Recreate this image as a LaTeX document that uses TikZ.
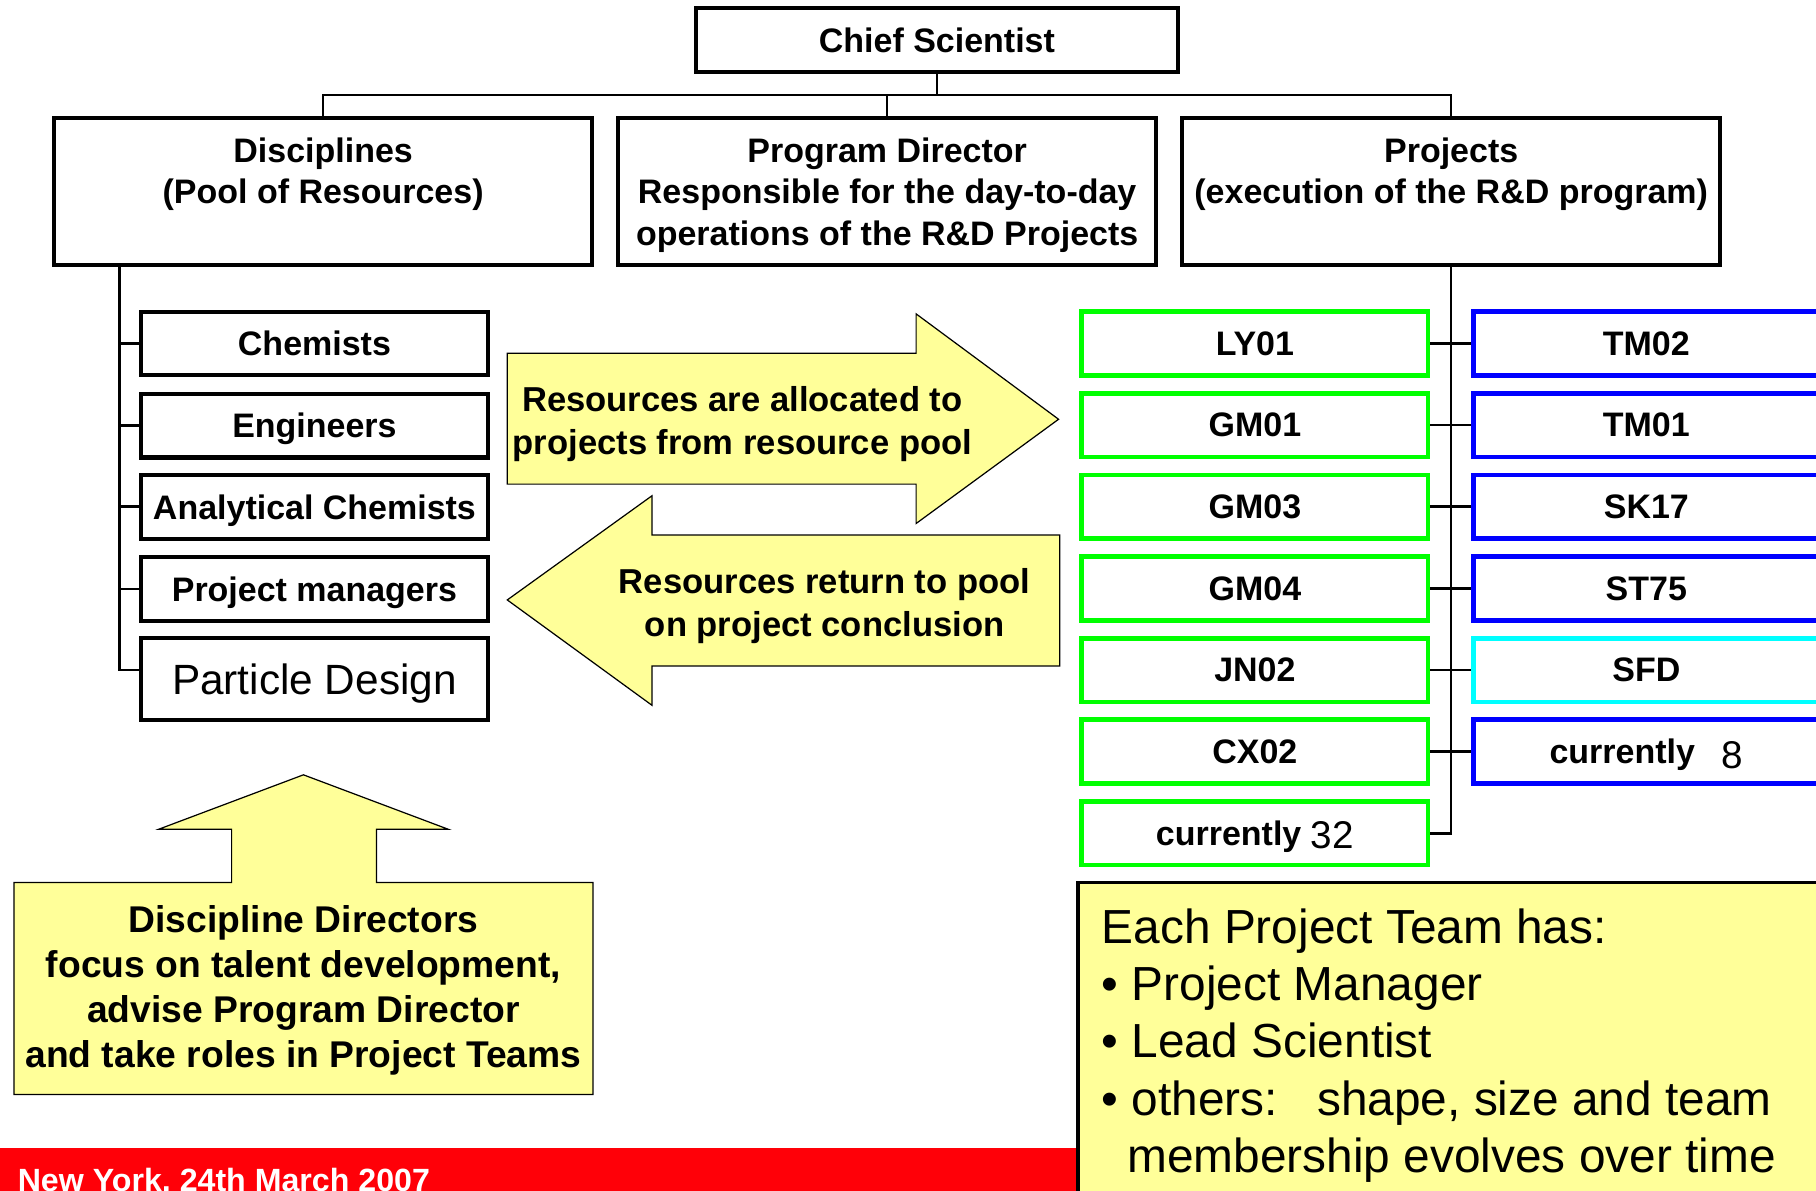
\documentclass[tikz,border=0pt]{standalone}
\usepackage{fontspec}
\setmainfont{Liberation Sans}
\definecolor{notefill}{RGB}{255,255,153}
\definecolor{projgreen}{RGB}{0,255,0}
\definecolor{projblue}{RGB}{0,0,255}
\definecolor{projcyan}{RGB}{0,255,255}
\definecolor{barred}{RGB}{255,0,8}
\tikzset{
  orgbox/.style={draw, line width=2pt, fill=white, inner sep=0pt,
    minimum width=5.98cm, minimum height=1.1cm, text depth=0pt,
    font=\bfseries\fontsize{16.7}{20.5}\selectfont},
  headbox/.style={orgbox, align=center, minimum width=9.3cm,
    minimum height=2.54cm},
  projbox/.style={orgbox, line width=2.3pt},
  link/.style={line width=1.2pt},
  callout/.style={draw, line width=0.6pt, fill=notefill},
  calltext/.style={align=center, inner sep=0pt,
    font=\bfseries\fontsize{17}{21}\selectfont}
}
\begin{document}
\begin{tikzpicture}[x=0.02cm, y=-0.02cm]
  \useasboundingbox (0,0) rectangle (1568,1028);
  % tree head
  \node[orgbox, minimum width=8.32cm] (chief) at (809,34.5) {Chief Scientist};
  \node[headbox] (disc) at (279,165.5)
    {Disciplines\\(Pool of Resources)\\ \strut};
  \node[headbox] (prog) at (766,165.5)
    {Program Director\\Responsible for the day-to-day\\operations of the R\&D Projects};
  \node[headbox] (proj) at (1253,165.5)
    {Projects\\(execution of the R\&D program)\\ \strut};
  \coordinate (bus) at (809,82);
  \draw[link] (chief) -- (bus);
  \draw[link] (disc.north) |- (bus) -| (proj.north);
  \draw[link] (prog.north) -- (prog.north |- bus);
  % disciplines
  \foreach \n/\y/\t in {1/296.5/Chemists, 2/367.5/Engineers,
      3/437.5/Analytical Chemists, 4/508.5/Project managers} {
    \node[orgbox] (d\n) at (271.5,\y) {\t};
  }
  \node[orgbox, minimum height=1.42cm, font=\fontsize{20.8}{24}\selectfont]
    (d5) at (271.5,586.5) {Particle Design};
  \coordinate (dbus) at (103,229);
  \draw[link] (dbus) |- ([yshift=0.16cm]d5.west);
  \foreach \n in {1,...,4}
    \draw[link] (d\n.west) -- (d\n.west -| dbus);
  % projects
  \foreach \n/\y/\t in {1/296.5/LY01, 2/367/GM01, 3/437.5/GM03,
      4/508/GM04, 5/578.5/JN02, 6/649/CX02} {
    \node[projbox, draw=projgreen] (g\n) at (1083.5,\y) {\t};
  }
  \node[projbox, draw=projgreen] (g7) at (1083.5,719.5)
    {currently \raisebox{-1.5pt}{\mdseries\fontsize{19}{19}\selectfont 32}};
  \foreach \n/\c/\t in {1/projblue/TM02, 2/projblue/TM01, 3/projblue/SK17,
      4/projblue/ST75, 5/projcyan/SFD} {
    \node[projbox, draw=\c] (b\n) at (1421.5,0 |- g\n) {\t};
  }
  \node[projbox, draw=projblue] (b6) at (1421.5,649)
    {currently \raisebox{-2pt}{\mdseries\fontsize{19}{19}\selectfont\, 8}};
  \coordinate (pbus) at (1253,229);
  \draw[link] (pbus) |- (g7.east);
  \foreach \n in {1,...,6}
    \draw[link] (g\n.east) -- (b\n.west);
  % flow arrows
  \draw[callout] (438,305) -- (791,305) -- (791,271) -- (914,362)
    -- (791,452) -- (791,418) -- (438,418) -- cycle;
  \node[calltext] (alloc) at (641,366)
    {Resources are allocated to\\projects from resource pool};
  \draw[callout] (915,462) -- (563,462) -- (563,428) -- (438,518)
    -- (563,609) -- (563,575) -- (915,575) -- cycle;
  \node[calltext] (return) at (712,523)
    {Resources return to pool\\on project conclusion};
  \draw[callout] (12,762) -- (200,762) -- (200,716) -- (137,716) -- (262,669)
    -- (387,716) -- (325,716) -- (325,762) -- (512,762) -- (512,945)
    -- (12,945) -- cycle;
  \node[calltext, font=\bfseries\fontsize{18.3}{22}\selectfont] (ddir) at (262,855)
    {Discipline Directors\\focus on talent development,\\advise Program Director\\and take roles in Project Teams};
  % footer
  \fill[barred] (0,991) rectangle (931,1040);
  \node[anchor=base west, inner sep=0pt, text=white,
    font=\bfseries\fontsize{15.8}{18}\selectfont] (venue) at (15,1029)
    {New York, 24th March 2007};
  \draw[line width=1.8pt, fill=notefill] (931,762) rectangle (1600,1060);
  \node[anchor=north west, align=left, inner sep=0pt,
    font=\fontsize{23.5}{28.2}\selectfont] (team) at (951,784)
    {Each Project Team has:\\
     \textbullet\ Project Manager\\
     \textbullet\ Lead Scientist\\
     \textbullet\ others:\hspace{0.82em}shape, size and team\\
     \hspace*{0.44cm}membership evolves over time};
\end{tikzpicture}
\end{document}
